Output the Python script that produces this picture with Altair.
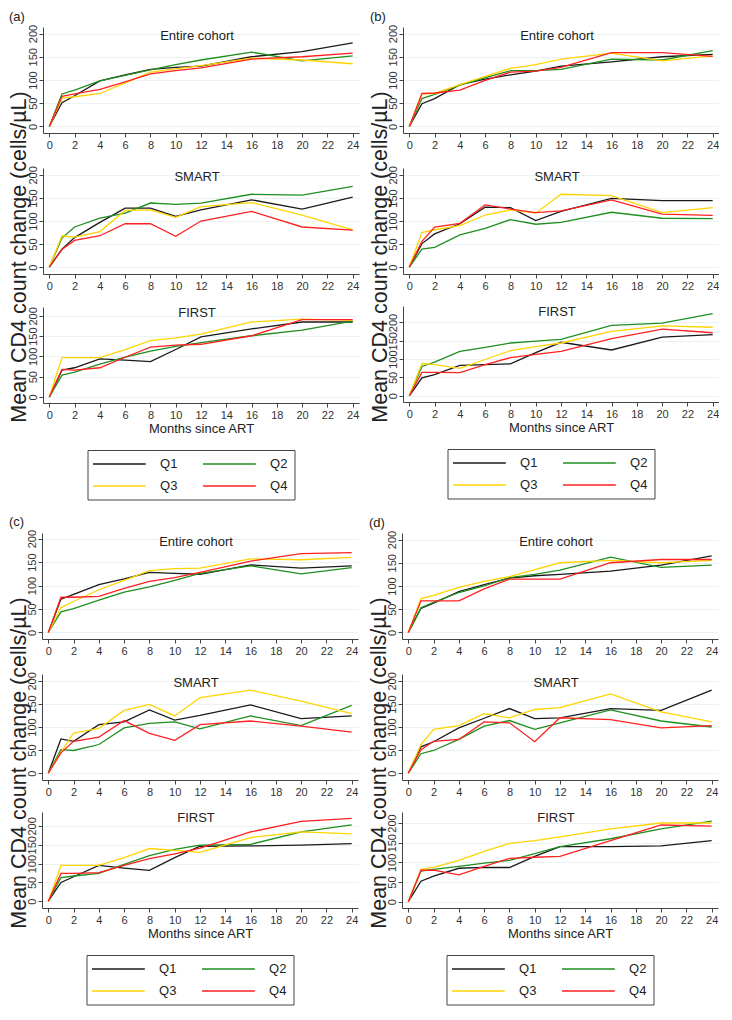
import altair as alt
import pandas as pd

FONT = "Liberation Sans"

MONTHS = [0, 1, 2, 4, 6, 8, 10, 12, 16, 20, 24]
GROUPS = ["Q1", "Q2", "Q3", "Q4"]
COLORS = ["#1a1a1a", "#1f8f1f", "#ffd400", "#ff2020"]
SUBGROUPS = ["Entire cohort", "SMART", "FIRST"]
PANEL_LABELS = ["(a)", "(b)", "(c)", "(d)"]
X_TICKS = [0, 2, 4, 6, 8, 10, 12, 14, 16, 18, 20, 22, 24]
Y_TICKS = [0, 50, 100, 150, 200]
Y_TITLE = "Mean CD4 count change (cells/µL)"
X_TITLE = "Months since ART"

# ---- panel (a)
A_ENTIRE = {
    "Q1": [0, 51, 66, 98, 111, 123, 127, 130, 150, 161, 180],
    "Q2": [0, 70, 78, 98, 110, 122, 133, 143, 160, 141, 152],
    "Q3": [0, 61, 64, 71, 94, 117, 124, 131, 147, 143, 135],
    "Q4": [0, 65, 70, 80, 96, 113, 120, 126, 145, 150, 158],
}
A_SMART = {
    "Q1": [0, 39, 64, 97, 128, 128, 110, 124, 146, 126, 152],
    "Q2": [0, 63, 87, 106, 117, 139, 136, 139, 158, 156, 175],
    "Q3": [0, 68, 65, 77, 123, 124, 108, 131, 140, 113, 81],
    "Q4": [0, 38, 58, 68, 94, 94, 67, 100, 121, 87, 80],
}
A_FIRST = {
    "Q1": [0, 66, 72, 94, 91, 87, 117, 148, 168, 185, 185],
    "Q2": [0, 54, 61, 81, 98, 113, 125, 134, 151, 165, 187],
    "Q3": [0, 97, 97, 97, 117, 139, 146, 155, 185, 192, 189],
    "Q4": [0, 68, 66, 72, 98, 123, 128, 130, 151, 191, 191],
}
# ---- panel (b)
B_ENTIRE = {
    "Q1": [0, 49, 60, 90, 102, 111, 119, 130, 139, 150, 155],
    "Q2": [0, 60, 69, 89, 105, 120, 120, 123, 145, 143, 163],
    "Q3": [0, 70, 71, 90, 108, 125, 133, 145, 158, 141, 152],
    "Q4": [0, 71, 72, 78, 99, 117, 119, 127, 159, 159, 151],
}
B_SMART = {
    "Q1": [0, 51, 72, 94, 130, 129, 101, 121, 149, 144, 144],
    "Q2": [0, 39, 43, 70, 84, 103, 93, 97, 119, 106, 105],
    "Q3": [0, 75, 81, 90, 113, 124, 117, 158, 155, 118, 129],
    "Q4": [0, 56, 87, 95, 135, 126, 118, 122, 146, 115, 112],
}
B_FIRST = {
    "Q1": [0, 49, 58, 83, 85, 87, 118, 146, 125, 160, 167],
    "Q2": [0, 80, 92, 121, 132, 144, 149, 154, 192, 198, 224],
    "Q3": [0, 88, 85, 75, 99, 123, 134, 144, 176, 191, 187],
    "Q4": [0, 64, 64, 63, 85, 104, 113, 121, 156, 182, 172],
}
# ---- panel (c)
C_ENTIRE = {
    "Q1": [0, 71, 81, 102, 114, 128, 126, 124, 144, 137, 142],
    "Q2": [0, 44, 51, 69, 86, 97, 111, 126, 142, 125, 138],
    "Q3": [0, 53, 66, 91, 111, 132, 136, 137, 157, 155, 160],
    "Q4": [0, 75, 75, 77, 94, 109, 117, 128, 152, 168, 170],
}
C_SMART = {
    "Q1": [0, 74, 69, 105, 111, 137, 115, 125, 148, 118, 124],
    "Q2": [0, 51, 49, 62, 98, 108, 111, 96, 124, 103, 147],
    "Q3": [0, 45, 87, 97, 136, 149, 124, 164, 180, 156, 129],
    "Q4": [0, 44, 69, 78, 114, 86, 71, 105, 113, 102, 89],
}
C_FIRST = {
    "Q1": [0, 50, 65, 95, 88, 82, 116, 146, 147, 149, 153],
    "Q2": [0, 63, 67, 74, 98, 121, 138, 149, 151, 184, 203],
    "Q3": [0, 95, 95, 95, 116, 140, 135, 130, 169, 184, 179],
    "Q4": [0, 74, 74, 76, 95, 113, 126, 141, 184, 212, 220],
}
# ---- panel (d)
D_ENTIRE = {
    "Q1": [0, 52, 63, 88, 103, 117, 122, 125, 132, 145, 165],
    "Q2": [0, 53, 65, 86, 100, 118, 125, 134, 162, 140, 145],
    "Q3": [0, 73, 80, 97, 110, 120, 135, 150, 155, 150, 155],
    "Q4": [0, 68, 68, 68, 94, 115, 115, 115, 150, 157, 157],
}
D_SMART = {
    "Q1": [0, 57, 68, 98, 119, 140, 118, 120, 140, 136, 180],
    "Q2": [0, 42, 49, 73, 102, 114, 95, 109, 137, 113, 100],
    "Q3": [0, 62, 95, 103, 129, 120, 138, 142, 172, 133, 111],
    "Q4": [0, 51, 69, 73, 111, 109, 68, 120, 116, 98, 103],
}
D_FIRST = {
    "Q1": [0, 52, 65, 85, 87, 87, 115, 140, 140, 142, 155],
    "Q2": [0, 78, 82, 90, 98, 105, 122, 140, 160, 185, 205],
    "Q3": [0, 82, 87, 105, 128, 148, 155, 165, 185, 200, 200],
    "Q4": [0, 80, 80, 68, 90, 110, 113, 115, 155, 195, 192],
}

# layout (not data)
W = 316
HEIGHTS = [106, 106, 96]
TITLE_Y = [9, 9, 6]
PANELS = [
    (A_ENTIRE, A_SMART, A_FIRST, [[-14, 214], [-15, 215], [-15, 222]]),
    (B_ENTIRE, B_SMART, B_FIRST, [[-14, 214], [-15, 215], [-17, 245]]),
    (C_ENTIRE, C_SMART, C_FIRST, [[-14, 212], [-15, 215], [-18, 237]]),
    (D_ENTIRE, D_SMART, D_FIRST, [[-14, 214], [-15, 215], [-16, 228]]),
]
LEG_LEFT = 45      # box offset from the plot's left edge
LEG_W = 207
LEG_H = 50

CSCALE = alt.Scale(domain=GROUPS, range=COLORS)


def to_frame(series):
    rows = []
    for g in GROUPS:
        for m, v in zip(MONTHS, series[g]):
            rows.append({"month": m, "change": v, "group": g})
    return pd.DataFrame(rows)


def subplot(series, name, ydom, h, ty, last):
    xaxis = alt.Axis(values=X_TICKS, grid=False, labelFlush=False,
                     labelOverlap=False, title=X_TITLE if last else None)
    yaxis = alt.Axis(values=Y_TICKS, grid=True, labelFlush=False,
                     labelOverlap=False, labelAngle=270, labelAlign="center",
                     labelBaseline="bottom", labelPadding=1, title=None)
    lines = alt.Chart(to_frame(series)).mark_line(strokeWidth=1.3, clip=True).encode(
        x=alt.X("month:Q", scale=alt.Scale(domain=[-0.5, 24.5], nice=False, zero=False), axis=xaxis),
        y=alt.Y("change:Q", scale=alt.Scale(domain=ydom, nice=False, zero=False), axis=yaxis),
        color=alt.Color("group:N", scale=CSCALE, legend=None),
    )
    lab = alt.Chart(alt.Data(values=[{"t": name}])).mark_text(
        font=FONT, fontSize=13, color="#222", baseline="middle", align="center"
    ).encode(text="t:N", x=alt.value(W / 2 - 4), y=alt.value(ty))
    return alt.layer(lines, lab).properties(width=W, height=h)


def legend_chart():
    leg = pd.DataFrame({
        "group": GROUPS,
        "col": [i % 2 for i in range(len(GROUPS))],
        "row": [i // 2 for i in range(len(GROUPS))],
    })
    base = alt.Chart(leg).transform_calculate(
        x_end="datum.col + 0.48", x_txt="datum.col + 0.61"
    )
    xs = alt.Scale(domain=[0, 1], range=[LEG_LEFT + 5, LEG_LEFT + 115])
    ys = alt.Scale(domain=[0, 1], range=[14, 36])
    box = alt.Chart(alt.Data(values=[{}])).mark_rect(
        filled=False, stroke="#444", strokeWidth=1
    ).encode(x=alt.value(LEG_LEFT), x2=alt.value(LEG_LEFT + LEG_W),
             y=alt.value(0.5), y2=alt.value(LEG_H))
    rules = base.mark_rule(strokeWidth=1.4).encode(
        x=alt.X("col:Q", scale=xs, axis=None),
        x2="x_end:Q",
        y=alt.Y("row:Q", scale=ys, axis=None),
        color=alt.Color("group:N", scale=CSCALE, legend=None),
    )
    texts = base.mark_text(align="left", baseline="middle", font=FONT,
                           fontSize=13, color="#222").encode(
        x=alt.X("x_txt:Q", scale=xs, axis=None),
        y=alt.Y("row:Q", scale=ys, axis=None),
        text="group:N",
    )
    return alt.layer(box, rules, texts).properties(width=LEG_LEFT + LEG_W + 1, height=LEG_H + 1)


def panel(label, spec):
    e, s, f, doms = spec
    subs = [subplot(d, n, dom, h, ty, i == 2)
            for i, (d, n, dom, h, ty) in enumerate(zip([e, s, f], SUBGROUPS, doms, HEIGHTS, TITLE_Y))]
    col = alt.vconcat(*subs, legend_chart(), spacing=15)
    ytitle = alt.Chart(alt.Data(values=[{"t": Y_TITLE}])).mark_text(
        font=FONT, fontSize=21.5, angle=270, color="#222", baseline="middle", align="center"
    ).encode(text="t:N", x=alt.value(11), y=alt.value(230)).properties(width=22, height=440)
    return alt.hconcat(ytitle, col, spacing=-5).properties(
        title=alt.TitleParams(text=label, anchor="start", font=FONT, fontSize=13,
                              fontWeight="normal", color="#222", offset=0)
    )


panels = [panel(l, p) for l, p in zip(PANEL_LABELS, PANELS)]

chart = alt.vconcat(
    alt.hconcat(panels[0], panels[1], spacing=10),
    alt.hconcat(panels[2], panels[3], spacing=10),
    spacing=15,
).properties(padding={"top": 3, "left": 0, "right": 0, "bottom": 0}).configure(
    font=FONT
).configure_view(stroke=None).configure_axis(
    domainColor="#444", tickColor="#444", tickSize=4, labelFont=FONT, labelFontSize=11,
    labelColor="#333", titleFont=FONT, titleFontSize=13, titleFontWeight="normal",
    titleColor="#222", labelPadding=2, titlePadding=2, gridColor="#EAF2F3", domainWidth=1,
)

chart.save("out.html", embed_options={"renderer": "svg", "actions": False})
